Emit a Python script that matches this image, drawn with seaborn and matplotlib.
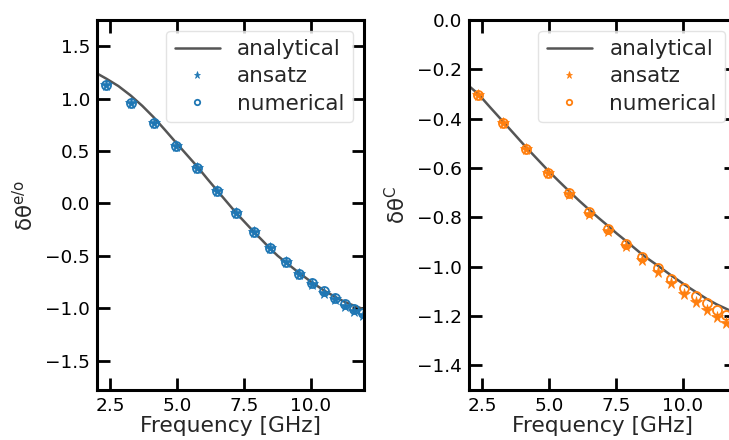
import numpy as np
import pandas as pd
import matplotlib
matplotlib.use("Agg")
import matplotlib.pyplot as plt
import seaborn as sns

# ---- data ----
freq = [2.35, 3.26, 4.13, 4.96, 5.76, 6.51, 7.21, 7.87, 8.48, 9.06,
        9.58, 10.06, 10.50, 10.91, 11.28, 11.62, 11.95]

eo_numerical = [1.13, 0.96, 0.77, 0.55, 0.34, 0.12, -0.09, -0.27, -0.43, -0.56,
                -0.67, -0.76, -0.84, -0.90, -0.96, -1.01, -1.05]
eo_ansatz = [1.13, 0.96, 0.77, 0.55, 0.34, 0.12, -0.09, -0.27, -0.43, -0.56,
             -0.67, -0.765, -0.85, -0.915, -0.975, -1.025, -1.06]

c_numerical = [-0.305, -0.419, -0.522, -0.619, -0.703, -0.779, -0.846, -0.907, -0.961, -1.007,
               -1.049, -1.086, -1.118, -1.149, -1.174, -1.195, -1.215]
c_ansatz = [-0.305, -0.419, -0.522, -0.620, -0.705, -0.788, -0.856, -0.917, -0.975, -1.022,
            -1.068, -1.109, -1.142, -1.175, -1.203, -1.230, -1.255]

freq_line = [2.0, 2.35, 2.8, 3.26, 3.7, 4.13, 4.55, 4.96, 5.36, 5.76, 6.13, 6.51, 6.86,
             7.21, 7.54, 7.87, 8.18, 8.48, 8.77, 9.06, 9.58, 10.06, 10.50, 10.91, 11.28,
             11.62, 12.0]
eo_analytical = [1.24, 1.19, 1.12, 1.03, 0.93, 0.82, 0.70, 0.58, 0.465, 0.35, 0.235, 0.12,
                 0.015, -0.09, -0.18, -0.27, -0.35, -0.43, -0.50, -0.56, -0.665, -0.755,
                 -0.83, -0.89, -0.94, -0.975, -1.01]
c_analytical = [-0.268, -0.300, -0.355, -0.410, -0.463, -0.515, -0.563, -0.610, -0.653,
                -0.695, -0.733, -0.770, -0.803, -0.835, -0.866, -0.895, -0.923, -0.950,
                -0.973, -0.995, -1.036, -1.072, -1.103, -1.131, -1.153, -1.170, -1.190]

labels = ["analytical", "ansatz", "numerical"]
xticks = [2.5, 5.0, 7.5, 10.0]
eo_yticks = [-1.5, -1.0, -0.5, 0.0, 0.5, 1.0, 1.5]
c_yticks = [-1.4, -1.2, -1.0, -0.8, -0.6, -0.4, -0.2, 0.0]

sns.set_theme(style="ticks")
plt.rcParams["font.family"] = ["DejaVu Sans"]

W, H = 729, 440
fig = plt.figure(figsize=(W / 100, H / 100), dpi=100)
ax1 = fig.add_axes([97 / W, 50 / H, 267 / W, 370 / H])
ax2 = fig.add_axes([469 / W, 50 / H, 267 / W, 370 / H])

line_color = "#555555"


def draw(ax, ana, ans, num, color, ylabel, yticks, ylim):
    sns.lineplot(x=freq_line, y=ana, ax=ax, color=line_color, linewidth=1.8,
                 label=labels[0])
    sns.lineplot(x=freq, y=ans, ax=ax, linestyle="", marker="*", color=color,
                 markersize=8.5, markeredgecolor=color, markeredgewidth=0.5,
                 label=labels[1])
    sns.lineplot(x=freq, y=num, ax=ax, linestyle="", marker="o", color=color,
                 markersize=6.5, markerfacecolor="none", markeredgecolor=color,
                 markeredgewidth=1.3, label=labels[2])
    ax.set_xlim(2, 12)
    ax.set_ylim(*ylim)
    ax.set_xticks(xticks)
    ax.set_yticks(yticks)
    ax.set_xticklabels([f"{v:.1f}" for v in xticks])
    ax.set_yticklabels([f"{v:.1f}".replace("-", "\u2212") for v in yticks])
    ax.set_xlabel("Frequency [GHz]", fontsize=15.7, labelpad=1)
    ax.set_ylabel(ylabel, fontsize=15.5, labelpad=6)
    ax.tick_params(direction="in", length=9, width=2, labelsize=13.3,
                   top=True, right=True, pad=5, colors="black")
    for sp in ax.spines.values():
        sp.set_linewidth(2.2)
        sp.set_color("black")
    leg = ax.legend(loc="upper right", fontsize=15.5, markerscale=0.6,
                    frameon=True, borderaxespad=0.5, handlelength=2.1,
                    labelspacing=0.33, borderpad=0.4)
    leg.get_frame().set_edgecolor("#dddddd")
    leg.get_frame().set_linewidth(1.0)
    return leg


draw(ax1, eo_analytical, eo_ansatz, eo_numerical, "#1f77b4",
     "δθ$^{\\mathrm{e/o}}$", eo_yticks, (-1.78, 1.75))
draw(ax2, c_analytical, c_ansatz, c_numerical, "#ff7f0e",
     "δθ$^{\\mathrm{C}}$", c_yticks, (-1.5, 0.0))

fig.savefig("out.png", dpi=100)
